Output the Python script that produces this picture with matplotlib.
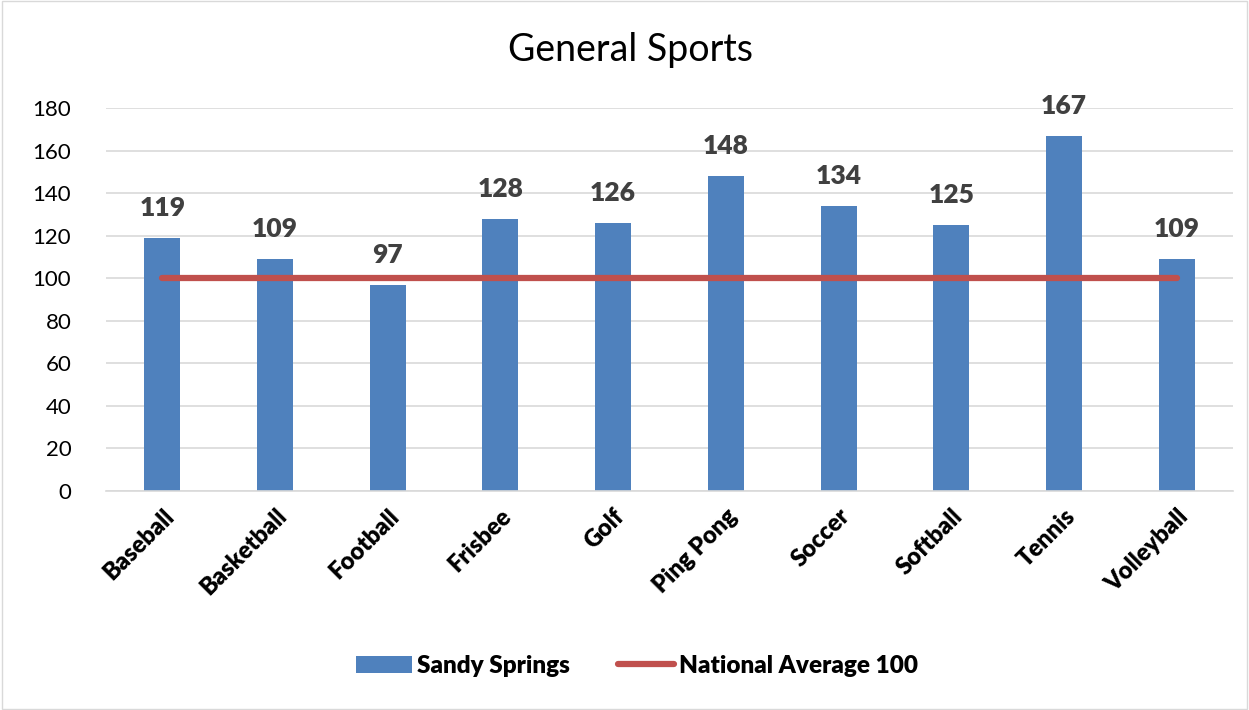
import matplotlib
matplotlib.use("Agg")
import matplotlib.pyplot as plt
import numpy as np
from matplotlib.patches import Rectangle

categories = ["Baseball", "Basketball", "Football", "Frisbee", "Golf",
              "Ping Pong", "Soccer", "Softball", "Tennis", "Volleyball"]
sandy_springs = [119, 109, 97, 128, 126, 148, 134, 125, 167, 109]
national_avg = [100] * len(categories)
yticks = [0, 20, 40, 60, 80, 100, 120, 140, 160, 180]

plt.rcParams['font.family'] = ['Lato', 'DejaVu Sans']

fig = plt.figure(figsize=(12.49, 7.10), dpi=100)
fig.patches.append(Rectangle((0.002, 0.002), 0.996, 0.996, transform=fig.transFigure,
                             fill=False, edgecolor="#D9D9D9", linewidth=1))
ax = fig.add_axes([106/1249, 1 - 491/710, (1233-106)/1249, (491-108)/710])

x = np.arange(len(categories))
bars = ax.bar(x, sandy_springs, width=0.32, color="#4F81BD", label="Sandy Springs", zorder=2)
line, = ax.plot(x, national_avg, color="#C0504D", linewidth=4.5, solid_capstyle="round",
                label="National Average 100", zorder=3)

for xi, v in zip(x, sandy_springs):
    ax.text(xi, v + 8.5, str(v), ha="center", va="bottom", fontsize=19,
            fontweight="heavy", color="#404040")

ax.set_xlim(-0.5, len(categories) - 0.5)
ax.set_ylim(0, 180)
ax.set_yticks(yticks)
ax.set_yticklabels([str(t) for t in yticks], fontsize=16, color="#000000")
ax.set_xticks(x)
ax.set_xticklabels(categories, rotation=45, ha="right", rotation_mode="anchor",
                   fontsize=17, fontweight="heavy")
ax.tick_params(axis="both", length=0)
ax.tick_params(axis="y", pad=25)
ax.tick_params(axis="x", pad=10)
ax.grid(axis="y", color="#D9D9D9", linewidth=1.2, zorder=0)
ax.set_axisbelow(True)
for s in ["top", "right", "left"]:
    ax.spines[s].set_visible(False)
ax.spines["bottom"].set_color("#D9D9D9")
ax.spines["bottom"].set_linewidth(1.2)

fig.text(0.505, 1 - 50/710, "General Sports", ha="center", va="center", fontsize=27)

leg = fig.legend([bars, line], ["Sandy Springs", "National Average 100"],
                 loc="center", bbox_to_anchor=(0.51, 1 - 666/710), ncol=2, frameon=False,
                 prop={"size": 17.5, "weight": "heavy"}, handlelength=2.3, handletextpad=0.2,
                 columnspacing=2.0)

fig.savefig("out.png", dpi=100)
